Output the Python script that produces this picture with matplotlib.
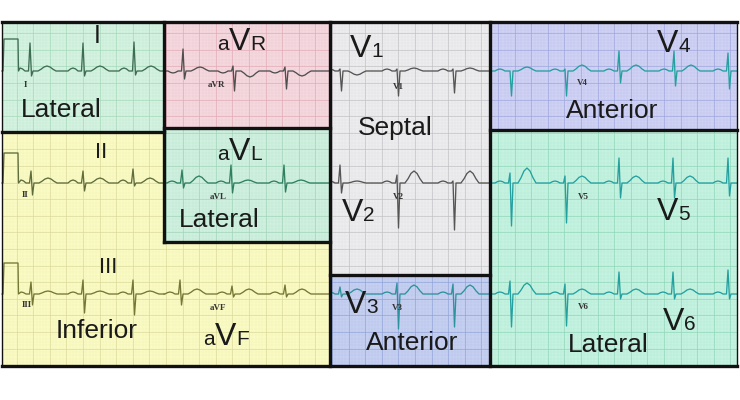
import numpy as np
import matplotlib.pyplot as plt
from matplotlib.patches import Rectangle

plt.rcParams['font.family'] = ['Liberation Sans', 'DejaVu Sans']

# ---- data (pixel units, amplitudes in px above baseline) ----
# beat template: offset from R peak and share of each wave at that point
tmpl_dx = [-15, -12.5, -10, -7.5, -5, -1.5, 0, 1.5, 3, 8, 11, 14, 17, 20, 23, 26]
tmpl_p = [0, .7, 1, .7, 0, 0, 0, 0, 0, 0, 0, 0, 0, 0, 0, 0]
tmpl_r = [0, 0, 0, 0, 0, 0, 1, 0, 0, 0, 0, 0, 0, 0, 0, 0]
tmpl_s = [0, 0, 0, 0, 0, 0, 0, 1, 0, 0, 0, 0, 0, 0, 0, 0]
tmpl_t = [0, 0, 0, 0, 0, 0, 0, 0, 0, 0, .35, .8, 1, .8, .35, 0]

row_base = [71, 183, 294]
cal_height = [32, 30, 31]
col_edges = [2, 164, 330, 490, 737]

# row 1
I_beats, I_r, I_s, I_t = [30, 83, 134], [28, 28, 29], [5, 5, 4], [5, 5, 5]
aVR_beats, aVR_r, aVR_s, aVR_t = [183, 233, 285], [22, 5, 4], [8, 20, 18], [4, -6, -5]
V1_beats, V1_r, V1_s, V1_t = [340, 397, 453], [2, 2, 2], [20, 25, 22], [-4, 3, 3]
V4_beats, V4_r, V4_s, V4_t = [510, 565, 619, 674, 728], [0, 2, 20, 20, 18], [25, 25, 12, 15, 18], [4, 6, 6, 6, 6]
# row 2
II_beats, II_r, II_s, II_t = [31, 83, 133], [12, 12, 14], [12, 8, 3], [5, 5, 5]
aVL_beats, aVL_r, aVL_s, aVL_t = [182, 231, 284], [13, 18, 18], [5, 10, 9], [7, 3, 3]
V2_beats, V2_r, V2_s, V2_t = [340, 397, 453], [18, 8, 2], [10, 45, 47], [2, 12, 12]
V5_beats, V5_r, V5_s, V5_t = [510, 565, 619, 673, 728], [10, 7, 25, 25, 25], [43, 40, 15, 15, 13], [15, 7, 7, 7, 7]
# row 3
III_beats, III_r, III_s, III_t = [31, 83, 133], [12, 14, 14], [11, 19, 21], [3, 3, 3]
aVF_beats, aVF_r, aVF_s, aVF_t = [180, 232, 285], [14, 8, 9], [11, 3, 3], [5, 5, 5]
V3_beats, V3_r, V3_s, V3_t = [340, 397, 453], [7, 11, 10], [3, 35, 33], [5, 9, 9]
V6_beats, V6_r, V6_s, V6_t = [510, 565, 619, 673, 728], [13, 10, 22, 22, 24], [33, 32, 5, 5, 5], [11, 5, 5, 5, 5]

# ---- figure ----
fig = plt.figure(figsize=(7.4, 4.0), dpi=100)
ax = fig.add_axes([0, 0, 1, 1])
ax.set_xlim(0, 740)
ax.set_ylim(400, 0)
ax.axis('off')

regions = [
    # x0, y0, x1, y1, fill, grid
    (2, 22, 164, 132, '#d4f2e0', '#a3d8b9'),
    (164, 22, 330, 128, '#f4d8de', '#e2a8b4'),
    (164, 128, 330, 242, '#cff0de', '#9ed3b6'),
    (2, 132, 164, 366, '#fafac4', '#dad898'),
    (164, 242, 330, 366, '#fafac4', '#dad898'),
    (330, 22, 490, 275, '#ededee', '#c0c0c4'),
    (330, 275, 490, 366, '#c5d0f1', '#8ea2d8'),
    (490, 22, 737, 130, '#cfd2f3', '#9ca4dc'),
    (490, 130, 737, 366, '#c4f3e0', '#8dd5b8'),
]
step = 16.6
for x0, y0, x1, y1, fill, gcol in regions:
    ax.add_patch(Rectangle((x0, y0), x1 - x0, y1 - y0, facecolor=fill, edgecolor='none', zorder=0))
    xs = np.arange(np.ceil(x0 / (step / 5)) * step / 5, x1, step / 5)
    ys = np.arange(np.ceil(y0 / (step / 5)) * step / 5, y1, step / 5)
    ax.vlines(xs, y0, y1, colors=gcol, lw=0.3, alpha=0.22, zorder=1)
    ax.hlines(ys, x0, x1, colors=gcol, lw=0.3, alpha=0.22, zorder=1)
    xs = np.arange(np.ceil(x0 / step) * step, x1, step)
    ys = np.arange(np.ceil(y0 / step) * step, y1, step)
    ax.vlines(xs, y0, y1, colors=gcol, lw=0.7, alpha=0.65, zorder=1)
    ax.hlines(ys, x0, x1, colors=gcol, lw=0.7, alpha=0.65, zorder=1)


def trace(beats, r, s, t, p, x0, x1, base, color, cal=None):
    xs, ys = [x0], [0.0]
    if cal is not None:
        xs += [x0 + 1, x0 + 2, x0 + 16, x0 + 16.5]
        ys += [0, cal, cal, 0]
    for b, rr, ss, tt in zip(beats, r, s, t):
        for dx, fp, fr, fs, ft in zip(tmpl_dx, tmpl_p, tmpl_r, tmpl_s, tmpl_t):
            x = b + dx
            if x0 < x < x1 and x > xs[-1]:
                xs.append(x)
                ys.append(p * fp + rr * fr - ss * fs + tt * ft)
    xs.append(x1)
    ys.append(0.0)
    ax.plot(xs, base - np.array(ys), color=color, lw=0.95, zorder=3,
            solid_joinstyle='round')


c = col_edges
trace(I_beats, I_r, I_s, I_t, 3, c[0], c[1], row_base[0], '#3d6d52', cal_height[0])
trace(aVR_beats, aVR_r, aVR_s, aVR_t, -2, c[1], c[2], row_base[0], '#4f4f4f')
trace(V1_beats, V1_r, V1_s, V1_t, 2, c[2], c[3], row_base[0], '#555555')
trace(V4_beats, V4_r, V4_s, V4_t, 2, c[3], c[4], row_base[0], '#23a0a0')
trace(II_beats, II_r, II_s, II_t, 3, c[0], c[1], row_base[1], '#5f6c3c', cal_height[1])
trace(aVL_beats, aVL_r, aVL_s, aVL_t, 2, c[1], c[2], row_base[1], '#2f7f60')
trace(V2_beats, V2_r, V2_s, V2_t, 2, c[2], c[3], row_base[1], '#555555')
trace(V5_beats, V5_r, V5_s, V5_t, 2, c[3], c[4], row_base[1], '#23a0a0')
trace(III_beats, III_r, III_s, III_t, 2, c[0], c[1], row_base[2], '#737834', cal_height[2])
trace(aVF_beats, aVF_r, aVF_s, aVF_t, 2, c[1], c[2], row_base[2], '#737834')
trace(V3_beats, V3_r, V3_s, V3_t, 2, c[2], c[3], row_base[2], '#2d929c')
trace(V6_beats, V6_r, V6_s, V6_t, 2, c[3], c[4], row_base[2], '#23a0a0')

# ---- borders ----
k = dict(color='#111111', lw=2.4, solid_capstyle='projecting', zorder=5)
ax.plot([2, 737], [22, 22], **k)
ax.plot([2, 737], [366, 366], **k)
ax.plot([2, 2], [22, 366], color='#111111', lw=1.0, zorder=5)
ax.plot([737, 737], [22, 366], color='#111111', lw=1.0, zorder=5)
ax.plot([164, 164], [22, 242], **k)
ax.plot([2, 164], [132, 132], **k)
ax.plot([164, 330], [128, 128], **k)
ax.plot([164, 330], [242, 242], **k)
ax.plot([330, 330], [22, 366], **k)
ax.plot([490, 490], [22, 366], **k)
ax.plot([330, 490], [275, 275], **k)
ax.plot([490, 737], [130, 130], **k)

# ---- labels ----
txt = dict(color='#1a1a1a', va='baseline', zorder=6)
big, sub = 23, 15
vw = 0.667 * big * 100 / 72


def lead_name(xv, yb, pre, suf):
    if pre:
        ax.text(xv, yb, pre, fontsize=sub, ha='right', **txt)
    ax.text(xv, yb, 'V', fontsize=big, ha='left', **txt)
    ax.text(xv + vw, yb, suf, fontsize=sub, ha='left', **txt)


lead_name(229, 50, 'a', 'R')
lead_name(229, 160, 'a', 'L')
lead_name(215, 345, 'a', 'F')
lead_name(350, 57, '', '1')
lead_name(342, 221, '', '2')
lead_name(345, 313, '', '3')
lead_name(657, 52, '', '4')
lead_name(657, 220, '', '5')
lead_name(663, 330, '', '6')

ax.text(97, 43, 'I', fontsize=18, ha='center', **txt)
ax.text(101, 158, 'II', fontsize=16, ha='center', **txt)
ax.text(108, 273, 'III', fontsize=16, ha='center', **txt)

region_names = [('Lateral', 61, 117), ('Lateral', 219, 227), ('Inferior', 97, 338),
                ('Septal', 395, 135), ('Anterior', 612, 118), ('Anterior', 412, 350),
                ('Lateral', 608, 352)]
for name, x, y in region_names:
    ax.text(x, y, name, fontsize=19, ha='center', **txt)

small = dict(fontsize=6.5, fontweight='bold', family=['Liberation Serif', 'DejaVu Serif'],
             color='#333333', ha='center', va='center', zorder=4)
small_labels = [('I', 25, 85), ('aVR', 217, 85), ('V1', 398, 87), ('V4', 582, 83),
                ('II', 25, 195), ('aVL', 218, 197), ('V2', 398, 197), ('V5', 583, 197),
                ('III', 27, 305), ('aVF', 218, 308), ('V3', 397, 308), ('V6', 583, 307)]
for s_, x, y in small_labels:
    ax.text(x, y, s_, **small)

fig.savefig('out.png', dpi=100, facecolor='white')
